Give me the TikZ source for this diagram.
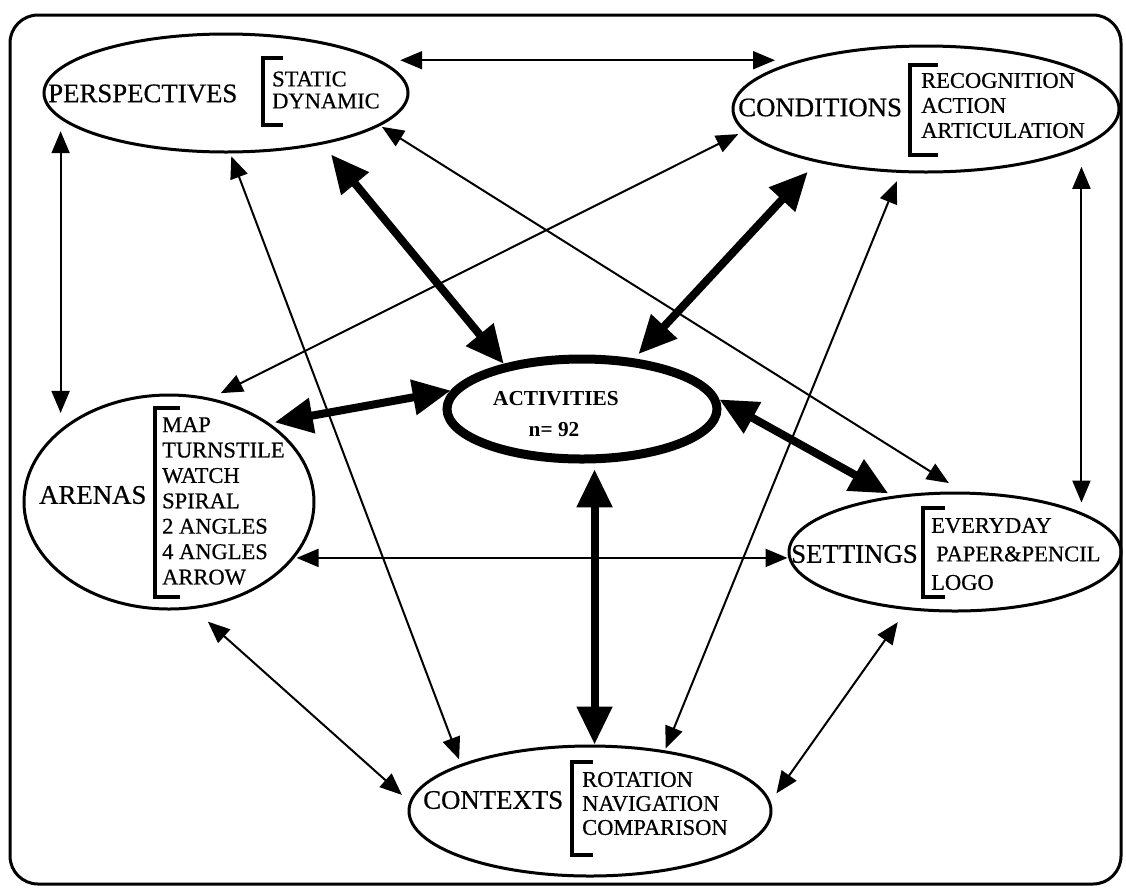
\documentclass[tikz,border=0pt]{standalone}
\usepackage{fontspec}
\setmainfont{Liberation Serif}
\newfontfamily\diagfont{Liberation Serif}[FakeBold=0.6]
\usetikzlibrary{shapes.geometric,arrows.meta}
\begin{document}
\begin{tikzpicture}[x=1pt,y=-1pt,
  ell/.style={ellipse, draw, line width=3pt, inner sep=0pt},
  lab/.style={anchor=west, inner sep=0pt, font=\diagfont\fontsize{26.8}{29}\selectfont},
  lst/.style={anchor=west, inner sep=0pt, align=left, font=\diagfont\fontsize{22.5}{#1}\selectfont},
  brk/.style={line width=3.5pt},
  thinarr/.style={line width=2pt, {Triangle[length=22pt,width=18pt]}-{Triangle[length=22pt,width=18pt]}},
  thickarr/.style={line width=8pt, {Triangle[length=38pt,width=34pt]}-{Triangle[length=38pt,width=34pt]}},
  actfont/.style={inner sep=0pt, font=\bfseries\fontsize{21.3}{23}\selectfont}
]
\useasboundingbox (0,0) rectangle (1126,887);
\draw[line width=3pt, rounded corners=28pt] (10,15) rectangle (1121,884);

% ellipses
\node[ell, minimum width=364pt, minimum height=118pt] (persp) at (226,93) {};
\node[ell, minimum width=386pt, minimum height=126pt] (cond) at (926,109) {};
\node[ell, minimum width=290pt, minimum height=214pt] (arenas) at (169,502) {};
\node[ell, line width=9pt, minimum width=270pt, minimum height=100pt] (act) at (582,409) {};
\node[ell, minimum width=332pt, minimum height=118pt] (settings) at (955,552) {};
\node[ell, minimum width=362pt, minimum height=130pt] (ctx) at (590,811) {};

% labels
\node[lab] (perspL) at (48,93.5) {PERSPECTIVES};
\node[lst=22] (perspS) at (272,90) {STATIC\\DYNAMIC};
\node[lab] (condL) at (738,107.5) {CONDITIONS};
\node[lst=25] (condS) at (921,105.5) {RECOGNITION\\ACTION\\ARTICULATION};
\node[lab] (arenasL) at (39,495) {ARENAS};
\node[lst=25.4] (arenasS) at (162,501) {MAP\\TURNSTILE\\WATCH\\SPIRAL\\2 ANGLES\\4 ANGLES\\ARROW};
\node[lab] (settingsL) at (791,554) {SETTINGS};
\node[lst=28.5] (settingsS) at (931,554) {EVERYDAY\\\hspace*{5pt}PAPER\&PENCIL\\LOGO};
\node[lab] (ctxL) at (423,800) {CONTEXTS};
\node[lst=24] (ctxS) at (582,803.5) {ROTATION\\NAVIGATION\\COMPARISON};
\node[actfont, anchor=west] (actL) at (493,399) {ACTIVITIES};
\node[actfont] (actN) at (554,430) {n= 92};

% brackets
\draw[brk] (283,58) -| (263,125) -- (283,125);
\draw[brk] (938,65) -| (910,155) -- (938,155);
\draw[brk] (180,408) -| (155,597) -- (180,597);
\draw[brk] (945,508) -| (923,597) -- (945,597);
\draw[brk] (593,762) -| (572,855) -- (593,855);

% thin connectors
\draw[thinarr, shorten <=20pt, shorten >=20pt] (persp.12) -- (persp.12 -| cond.160);
\draw[thinarr, shorten <=12pt, shorten >=16pt] (persp.189) -- (persp.189 |- arenas.146);
\draw[thinarr, shorten <=19pt, shorten >=9pt] (cond.-14) -- (cond.-14 |- settings.18);
\draw[thinarr, shorten <=2pt] (arenas.-24) -- (arenas.-24 -| settings.west);
\draw[thinarr, shorten <=19pt, shorten >=10pt] (arenas.-77) -- (ctx.177);
\draw[thinarr, shorten <=15pt, shorten >=10pt] (settings.230) -- (ctx.3);
\draw[thinarr, shorten <=3pt, shorten >=5pt] (persp.-86) -- (ctx.160);
\draw[thinarr, shorten <=2pt, shorten >=16pt] (persp.-12) -- (settings.83);
\draw[thinarr, shorten <=6pt, shorten >=11pt] (cond.187) -- (arenas.68);
\draw[thinarr, shorten <=9pt, shorten >=2pt] (cond.248) -- (ctx.39);

% thick connectors
\draw[thickarr, shorten <=13pt] (persp.-28) -- (act.150);
\draw[thickarr, shorten <=13pt, shorten >=6pt] (cond.206) -- (act.44);
\draw[thickarr, shorten <=5pt] (arenas.38) -- (act.172);
\draw[thickarr, shorten >=5pt] (act.4) -- (settings.138);
\draw[thickarr, shorten <=6pt] (act.-77) -- (act.-77 |- ctx.north);
\end{tikzpicture}
\end{document}
